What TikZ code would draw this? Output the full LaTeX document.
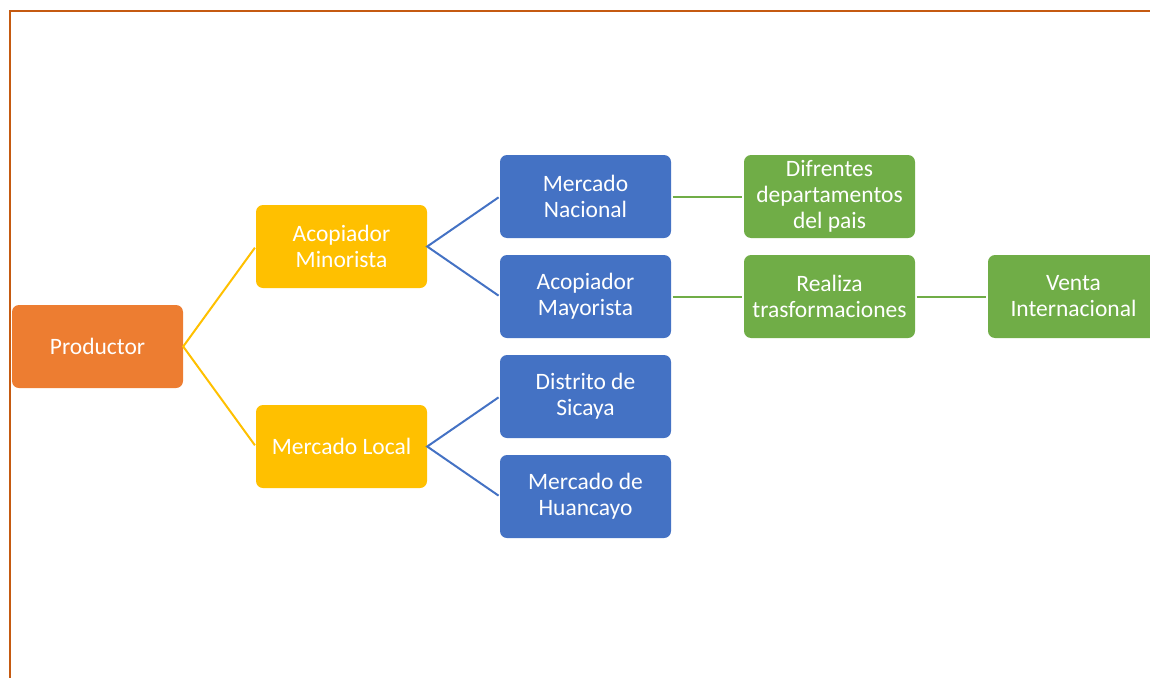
\documentclass[tikz,border=0pt]{standalone}
\usepackage{fontspec}
\setmainfont{Carlito}
\definecolor{cOrange}{HTML}{ED7D31}
\definecolor{cYellow}{HTML}{FFC000}
\definecolor{cBlue}{HTML}{4472C4}
\definecolor{cGreen}{HTML}{70AD47}
\definecolor{cFrame}{HTML}{C55A11}
\tikzset{
  box/.style={rounded corners=7pt, minimum width=171pt, minimum height=83pt, inner sep=0pt,
    align=center, text=white, font=\fontsize{23.5}{26}\selectfont},
  orangebox/.style={box, fill=cOrange},
  yellowbox/.style={box, fill=cYellow},
  bluebox/.style={box, fill=cBlue},
  greenbox/.style={box, fill=cGreen},
  link/.style={line width=2pt, shorten <=1.5pt, shorten >=1.5pt},
}
\begin{document}
\begin{tikzpicture}[x=1pt,y=-1pt]
\useasboundingbox (0,0) rectangle (1150,677);
\clip (0,0) rectangle (1150,677);
\draw[cFrame, line width=2pt] (9.5,11) rectangle (1170,700);
\node[orangebox] (prod) at (97.5,346.5) {Productor};
\node[yellowbox] (amin) at (341.5,246.5) {Acopiador\\Minorista};
\node[yellowbox] (mloc) at (341.5,446.5) {Mercado Local};
\node[bluebox] (mnac) at (585.5,196.5) {Mercado\\Nacional};
\node[bluebox] (amay) at (585.5,296.5) {Acopiador\\Mayorista};
\node[bluebox] (dsic) at (585.5,396.5) {Distrito de\\Sicaya};
\node[bluebox] (mhua) at (585.5,496.5) {Mercado de\\Huancayo};
\node[greenbox] (dif) at (829.5,196.5) {Difrentes\\departamentos\\del pais};
\node[greenbox] (real) at (829.5,296.5) {Realiza\\trasformaciones};
\node[greenbox] (vint) at (1073.5,296.5) {Venta\\Internacional};
\draw[link, cYellow] (amin.west) -- (prod.east) -- (mloc.west);
\draw[link, cBlue] (mnac.west) -- (amin.east) -- (amay.west);
\draw[link, cBlue] (dsic.west) -- (mloc.east) -- (mhua.west);
\draw[link, cGreen] (mnac.east) -- (dif.west);
\draw[link, cGreen] (amay.east) -- (real.west);
\draw[link, cGreen] (real.east) -- (vint.west);
\end{tikzpicture}
\end{document}
